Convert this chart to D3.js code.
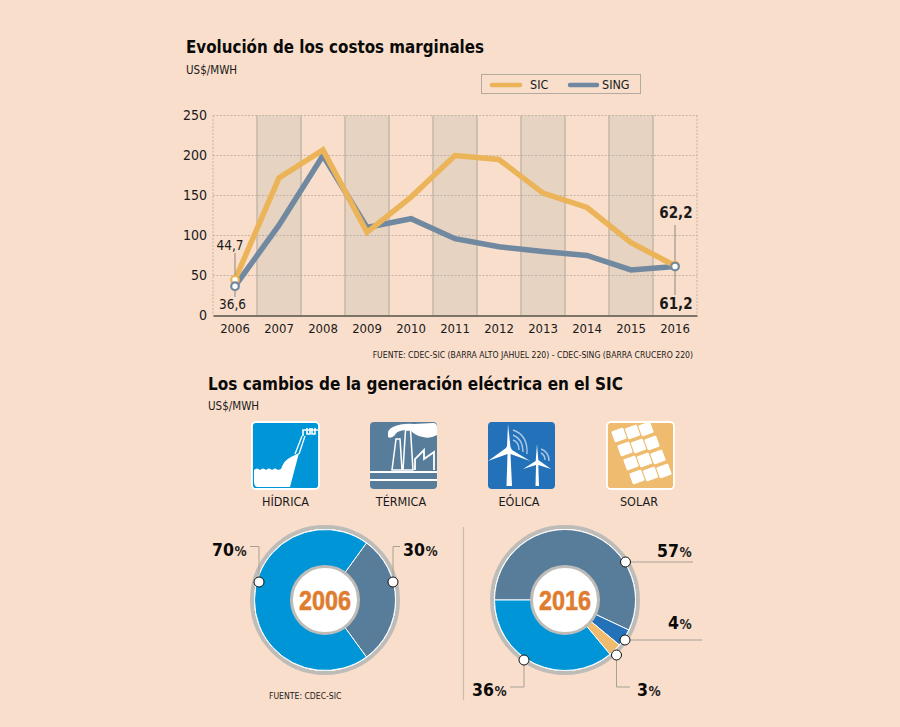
<!DOCTYPE html>
<html>
<head>
<meta charset="utf-8">
<script src="https://cdnjs.cloudflare.com/ajax/libs/d3/7.8.5/d3.min.js"></script>
<style>
html, body { margin: 0; padding: 0; background: #f9decb; }
svg { display: block; }
text { font-family: "DejaVu Sans Condensed", "DejaVu Sans", sans-serif; fill: #1a1a1a; }
.title { font-weight: bold; font-size: 18px; fill: #0a0a0a; }
.unit { font-size: 11.5px; }
.pct { font-weight: bold; font-size: 17.5px; fill: #0a0a0a; }
.pct .sign { font-size: 13.5px; fill: #222; }
.lead { fill: none; stroke: #a8a198; stroke-width: 1; }
</style>
</head>
<body>
<svg id="chart" width="900" height="727"></svg>
<script>
var years = ["2006","2007","2008","2009","2010","2011","2012","2013","2014","2015","2016"];
var sic = [44.7, 172, 207, 104, 148, 200, 195, 153, 135, 91, 62.2];
var sing = [36.6, 113, 200, 110, 121, 96, 86, 80, 75, 57, 61.2];
var yTicks = [0, 50, 100, 150, 200, 250];
var shadedYears = ["2007","2009","2011","2013","2015"];

var sources = ["HÍDRICA","TÉRMICA","EÓLICA","SOLAR"];
var mix2006 = [["TÉRMICA", 30], ["HÍDRICA", 70]];
var mix2016 = [["TÉRMICA", 57], ["EÓLICA", 4], ["SOLAR", 3], ["HÍDRICA", 36]];

var colSic = "#ecb458", colSing = "#7189a0";
var colors = d3.scaleOrdinal().domain(sources).range(["#0095d6", "#587d9b", "#2372b9", "#efbb6e"]);

var svg = d3.select("#chart");
svg.append("rect").attr("width", 900).attr("height", 727).attr("fill", "#f9decb");

function txt(parent, x, y, s, cls, anchor) {
  return parent.append("text").attr("x", x).attr("y", y).attr("class", cls || null)
    .attr("text-anchor", anchor || "start").text(s);
}

// ---- line chart
txt(svg, 186, 53, "Evolución de los costos marginales", "title")
  .attr("textLength", 298).attr("lengthAdjust", "spacingAndGlyphs");
txt(svg, 186, 74, "US$/MWH", "unit");

var x = d3.scaleBand().domain(years).range([213, 697]);
var y = d3.scaleLinear().domain([0, 250]).range([315.5, 115.5]);
var xc = function(d) { return x(d) + x.bandwidth() / 2; };

svg.selectAll(".band").data(shadedYears).enter().append("rect")
  .attr("class", "band")
  .attr("x", function(d) { return x(d); })
  .attr("y", y(250))
  .attr("width", x.bandwidth())
  .attr("height", y(0) - y(250))
  .attr("fill", "#e6d3c1")
  .attr("stroke", "none");
shadedYears.forEach(function(d) {
  [x(d), x(d) + x.bandwidth()].forEach(function(px) {
    svg.append("line").attr("x1", px).attr("x2", px).attr("y1", y(250)).attr("y2", y(0))
      .attr("stroke", "#c8b9aa").attr("stroke-width", 1.6);
  });
});

svg.selectAll(".grid").data(yTicks.slice(1)).enter().append("line")
  .attr("class", "grid")
  .attr("x1", 213).attr("x2", 697)
  .attr("y1", function(d) { return y(d); })
  .attr("y2", function(d) { return y(d); })
  .attr("stroke", "#b5aa9d").attr("stroke-width", 0.8).attr("stroke-dasharray", "2 1.5");
[213, 697].forEach(function(px) {
  svg.append("line").attr("x1", px).attr("x2", px).attr("y1", y(250)).attr("y2", y(0))
    .attr("stroke", "#b5aa9d").attr("stroke-width", 0.8).attr("stroke-dasharray", "2 1.5");
});

var yAxis = svg.append("g").attr("transform", "translate(213,0)")
  .call(d3.axisLeft(y).tickValues(yTicks).tickSize(0).tickPadding(6));
yAxis.select(".domain").remove();
yAxis.selectAll("text").style("font-size", "14px").style("font-family", "'DejaVu Sans Condensed'").attr("fill", "#1a1a1a");

var xAxis = svg.append("g").attr("transform", "translate(0,315.5)")
  .call(d3.axisBottom(x).tickSize(0).tickPadding(8));
xAxis.select(".domain").attr("stroke", "#7d7468").attr("stroke-width", 2);
xAxis.selectAll("text").style("font-size", "13px").style("font-family", "'DejaVu Sans Condensed'").attr("fill", "#1a1a1a");

var line = d3.line().x(function(d, i) { return xc(years[i]); }).y(function(d) { return y(d); });
svg.append("path").datum(sing).attr("d", line).attr("fill", "none")
  .attr("stroke", colSing).attr("stroke-width", 5.5);
svg.append("path").datum(sic).attr("d", line).attr("fill", "none")
  .attr("stroke", colSic).attr("stroke-width", 5.5);

// leaders for the end values
var first = xc("2006"), last = xc("2016");
function vline(px, y1, y2, w) {
  svg.append("line").attr("x1", px).attr("x2", px).attr("y1", y1).attr("y2", y2)
    .attr("stroke", "#8f877d").attr("stroke-width", w || 1);
}
vline(first, 253, y(sic[0]));
vline(first, y(sing[0]), 297);
vline(last, 225, y(sic[10]));
vline(last, y(sing[10]), 295);

[[first, sic[0], colSic], [last, sic[10], colSic], [first, sing[0], colSing], [last, sing[10], colSing]].forEach(function(p) {
  svg.append("circle").attr("cx", p[0]).attr("cy", y(p[1])).attr("r", 3.8)
    .attr("fill", "#fff").attr("stroke", p[2]).attr("stroke-width", 2.2);
});

svg.append("text").attr("x", 230).attr("y", 250).attr("text-anchor", "middle").style("font-size", "13.5px").text("44,7");
svg.append("text").attr("x", 232.5).attr("y", 309).attr("text-anchor", "middle").style("font-size", "13.5px").text("36,6");
svg.append("text").attr("x", 676).attr("y", 218).attr("text-anchor", "middle").style("font-size", "15px").style("font-weight", "bold").text("62,2");
svg.append("text").attr("x", 676).attr("y", 309).attr("text-anchor", "middle").style("font-size", "15px").style("font-weight", "bold").text("61,2");

// legend
svg.append("rect").attr("x", 481.5).attr("y", 74.5).attr("width", 159).attr("height", 19)
  .attr("fill", "none").attr("stroke", "#b3a99e");
[[492, 520, colSic, "SIC", 530], [570, 597, colSing, "SING", 602]].forEach(function(l) {
  svg.append("line").attr("x1", l[0]).attr("x2", l[1]).attr("y1", 85).attr("y2", 85)
    .attr("stroke", l[2]).attr("stroke-width", 4.5).attr("stroke-linecap", "round");
  svg.append("text").attr("x", l[4]).attr("y", 89).style("font-size", "12.5px").text(l[3]);
});
txt(svg, 693, 358, "FUENTE: CDEC-SIC (BARRA ALTO JAHUEL 220) - CDEC-SING (BARRA CRUCERO 220)", null, "end")
  .style("font-size", "8.6px");

// ---- second block
txt(svg, 208, 390, "Los cambios de la generación eléctrica en el SIC", "title")
  .attr("textLength", 415).attr("lengthAdjust", "spacingAndGlyphs");
txt(svg, 208, 410, "US$/MWH", "unit");

// icons, drawn in a 67x67 box
function iconBox(name, left) {
  var g = svg.append("g").attr("transform", "translate(" + left + ",422)");
  g.append("rect").attr("x", 0).attr("y", 0).attr("width", 67).attr("height", 67).attr("rx", 4)
    .attr("fill", colors(name)).attr("stroke", "#fff").attr("stroke-width", name == "TÉRMICA" || name == "EÓLICA" ? 0 : 1.8);
  return g;
}

var hid = iconBox("HÍDRICA", 252);
hid.append("path").attr("fill", "#fff").attr("d",
  "M2,48 Q5,45 8,48 Q11,45 14,48 Q17,45 20,48 Q23,45 26,48 L29,47 Q32,38 39,35 L47,31 L38,65 L6,65 Q2,65 2,60 Z");
hid.append("path").attr("fill", "none").attr("stroke", "#fff").attr("stroke-width", 1.3)
  .attr("d", "M43,32 L50,14 M47,32 L53,14");
hid.append("path").attr("fill", "none").attr("stroke", "#fff").attr("stroke-width", 1.6)
  .attr("d", "M51,14 L51,8 L66,8 M55,6 V12 H58 V6 M60,6 V12 H63 V6");

var ter = iconBox("TÉRMICA", 370);
ter.append("path").attr("fill", "#fff").attr("d",
  "M18,15 Q17,7 23,5 Q32,1 44,2 L63,1 Q67,1 67,5 L67,13 Q60,17 53,15 Q46,14 41,9 L35,8 Q26,9 25,13 Q21,17 18,15 Z");
ter.append("path").attr("fill", colors("TÉRMICA")).attr("stroke", "#fff").attr("stroke-width", 1.5)
  .attr("d", "M22,48 L26,17 L30,17 L32,48 Z M33,48 L35.5,8 L40.5,8 L43,48 Z");
ter.append("path").attr("fill", "none").attr("stroke", "#fff").attr("stroke-width", 1.8)
  .attr("d", "M45,48 V37 L54,28 V37 L64,30 V48");
ter.append("path").attr("fill", "none").attr("stroke", "#fff").attr("stroke-width", 1.8)
  .attr("d", "M0,50 H67 M0,58 H67");

var eol = iconBox("EÓLICA", 488);
eol.append("path").attr("fill", "none").attr("stroke", "#a9c8e6").attr("stroke-width", 1.4)
  .attr("d", "M25,8 Q40,13 39,32 M25,13 Q35,17 35,30 M25,18 Q31,20 31,28 M53,27 Q61,30 61,39 M53,31 Q57,33 57,38");
eol.append("path").attr("fill", "#fff").attr("d",
  "M20,2 L22.5,25 L24,28 L42,39 L22.5,32 L24,64 L18.5,64 L19.5,32 L0,39 L18,26 L19,24 Z");
eol.append("path").attr("fill", "#fff").attr("d",
  "M49,22 L50.3,38 L63,47 L50.3,43 L51,64 L47.5,64 L48,43 L35,47 L47.7,39 Z");

var sol = iconBox("SOLAR", 607);
d3.range(4).forEach(function(r) {
  d3.range(3).forEach(function(c) {
    var cx = 12 + c * 13.5 + r * 6, cy = 13 - c * 3 + r * 14;
    sol.append("rect").attr("x", -6.3).attr("y", -5.8).attr("width", 12.6).attr("height", 11.6).attr("rx", 1.2)
      .attr("transform", "translate(" + cx + "," + cy + ") rotate(-20)")
      .attr("fill", "#fff");
  });
});

svg.selectAll(".src").data(sources).enter().append("text")
  .attr("class", "src")
  .attr("x", function(d, i) { return [285.5, 401, 519, 639][i]; })
  .attr("y", 506)
  .attr("text-anchor", "middle")
  .style("font-size", "12.5px")
  .text(function(d) { return d; });

// ---- donuts
var toRad = Math.PI / 180;
function donut(rows, cx, cy, start, label) {
  var g = svg.append("g").attr("transform", "translate(" + cx + "," + cy + ")");
  g.append("circle").attr("r", 73).attr("fill", "none").attr("stroke", "#bdbcb9").attr("stroke-width", 4);
  g.append("circle").attr("r", 71).attr("fill", "#fff");
  var pie = d3.pie().sort(null).value(function(d) { return d[1]; })
    .startAngle(start * toRad).endAngle((start + 360) * toRad);
  var arc = d3.arc().innerRadius(33).outerRadius(70.5);
  g.selectAll("path").data(pie(rows)).enter().append("path")
    .attr("d", arc)
    .attr("fill", function(d) { return colors(d.data[0]); })
    .attr("stroke", "#fff").attr("stroke-width", 1);
  g.append("circle").attr("r", 33.5).attr("fill", "#fff").attr("stroke", "#bdbcb9").attr("stroke-width", 3);
  g.append("text").attr("y", 10).attr("text-anchor", "middle")
    .attr("textLength", 52).attr("lengthAdjust", "spacingAndGlyphs")
    .style("font-family", "'Liberation Sans'").style("font-weight", "bold").style("font-size", "28px")
    .style("fill", "#e07c2e").style("stroke", "#e07c2e").style("stroke-width", 0.6).text(label);
}
donut(mix2006, 325, 600, 36, "2006");
donut(mix2016, 565, 600, -90, "2016");

svg.append("line").attr("x1", 463.5).attr("x2", 463.5).attr("y1", 527).attr("y2", 700)
  .attr("stroke", "#c9bcae").attr("stroke-width", 1.2);

function callout(d, px, py, tx, ty, value) {
  svg.append("path").attr("class", "lead").attr("d", d);
  svg.append("circle").attr("cx", px).attr("cy", py).attr("r", 5)
    .attr("fill", "#fff").attr("stroke", "#111").attr("stroke-width", 1);
  var t = svg.append("text").attr("class", "pct").attr("x", tx).attr("y", ty);
  t.append("tspan").text(value);
  t.append("tspan").attr("class", "sign").attr("dx", 0.5).text("%");
}
callout("M259,582 V546.5 H250", 259, 582, 212, 556, mix2006[1][1]);
callout("M393,582 V546.5 H400", 393, 582, 403, 556, mix2006[0][1]);
callout("M625.5,562 H693", 625.5, 562, 657, 557, mix2016[0][1]);
callout("M625,640 H702", 625, 640, 668, 629, mix2016[1][1]);
callout("M616.5,655 V687 H630", 616.5, 655, 637, 696, mix2016[2][1]);
callout("M524,660 V687 H510", 524, 660, 472, 696, mix2016[3][1]);

txt(svg, 269, 699, "FUENTE: CDEC-SIC", null).style("font-size", "8.6px");
</script>
</body>
</html>
